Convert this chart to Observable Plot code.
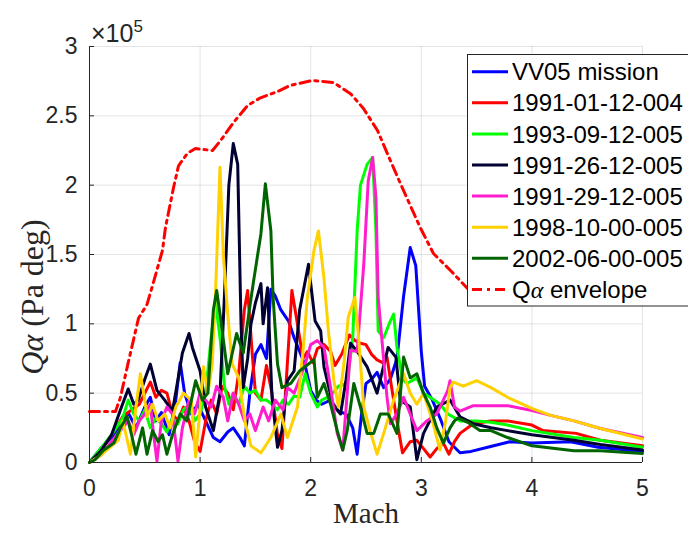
<!DOCTYPE html>
<html><head><meta charset="utf-8">
<script src="https://cdn.jsdelivr.net/npm/d3@7"></script>
<script src="https://cdn.jsdelivr.net/npm/@observablehq/plot@0.6"></script>
<style>
html,body{margin:0;padding:0;background:#fff;overflow:hidden}
#wrap{position:relative;width:688px;height:536px;overflow:hidden}
</style></head><body><div id="wrap"></div>
<script>
// Values: [Mach, Q·alpha in units of 1e5 Pa·deg]
const vv05 = [[0,0],[0.1,0.1],[0.2,0.18],[0.3,0.3],[0.35,0.36],[0.42,0.25],[0.5,0.4],[0.55,0.47],[0.6,0.3],[0.65,0.36],[0.72,0.2],[0.78,0.45],[0.82,0.72],[0.86,0.5],[0.92,0.35],[0.98,0.42],[1.05,0.3],[1.12,0.18],[1.18,0.15],[1.25,0.22],[1.3,0.25],[1.36,0.18],[1.4,0.12],[1.45,0.5],[1.5,0.78],[1.55,0.85],[1.6,0.75],[1.64,1.25],[1.68,1.2],[1.73,1.1],[1.8,1.02],[1.85,0.9],[1.9,0.8],[1.95,0.7],[2.0,0.52],[2.05,0.45],[2.1,0.42],[2.18,0.45],[2.25,0.37],[2.32,0.35],[2.38,0.25],[2.42,0.06],[2.46,0.35],[2.5,0.57],[2.55,0.6],[2.6,0.65],[2.66,0.54],[2.72,0.6],[2.78,0.75],[2.84,1.2],[2.9,1.55],[2.95,1.42],[3.0,0.8],[3.03,0.55],[3.1,0.45],[3.18,0.3],[3.25,0.15],[3.35,0.07],[3.45,0.08],[3.6,0.11],[3.8,0.15],[4.0,0.14],[4.35,0.15],[4.6,0.11],[5.0,0.08]];
const f910112 = [[0,0],[0.1,0.08],[0.2,0.2],[0.3,0.33],[0.38,0.38],[0.45,0.42],[0.5,0.5],[0.55,0.58],[0.6,0.47],[0.65,0.52],[0.7,0.5],[0.75,0.35],[0.8,0.3],[0.85,0.4],[0.9,0.3],[0.95,0.15],[1.0,0.08],[1.05,0.3],[1.1,0.45],[1.15,0.35],[1.2,0.55],[1.25,0.5],[1.3,0.38],[1.35,0.65],[1.4,1.1],[1.43,1.24],[1.47,0.8],[1.5,0.5],[1.55,0.45],[1.6,0.7],[1.65,0.5],[1.7,0.2],[1.74,0.1],[1.78,0.6],[1.83,1.24],[1.88,1.0],[1.93,0.75],[1.97,0.8],[2.02,0.72],[2.06,0.82],[2.12,0.85],[2.18,0.8],[2.22,0.7],[2.28,0.78],[2.35,0.92],[2.4,0.88],[2.45,0.86],[2.5,0.85],[2.55,0.78],[2.6,0.74],[2.65,0.72],[2.69,0.76],[2.73,0.55],[2.78,0.3],[2.83,0.07],[2.9,0.15],[2.96,0.16],[3.02,0.1],[3.08,0.04],[3.14,0.1],[3.2,0.14],[3.25,0.06],[3.3,0.15],[3.35,0.21],[3.47,0.28],[3.63,0.3],[3.78,0.3],[4.0,0.27],[4.1,0.23],[4.4,0.21],[4.62,0.16],[5.0,0.12]];
const f930912 = [[0,0],[0.1,0.1],[0.2,0.2],[0.3,0.32],[0.35,0.45],[0.4,0.35],[0.45,0.3],[0.5,0.38],[0.55,0.25],[0.6,0.32],[0.65,0.28],[0.7,0.22],[0.75,0.32],[0.8,0.28],[0.85,0.38],[0.9,0.42],[0.95,0.3],[1.0,0.35],[1.05,0.5],[1.1,0.9],[1.14,1.15],[1.18,0.9],[1.22,0.55],[1.26,0.42],[1.3,0.5],[1.35,0.42],[1.4,0.55],[1.45,0.5],[1.5,0.52],[1.55,0.45],[1.6,0.45],[1.65,0.42],[1.7,0.38],[1.75,0.45],[1.8,0.42],[1.85,0.48],[1.9,0.47],[1.95,0.64],[2.0,0.5],[2.06,0.4],[2.1,0.45],[2.15,0.47],[2.2,0.5],[2.25,0.55],[2.33,0.57],[2.38,0.9],[2.42,1.67],[2.45,2.0],[2.51,2.15],[2.56,2.2],[2.59,1.67],[2.61,0.95],[2.66,0.9],[2.72,1.02],[2.75,1.07],[2.78,0.83],[2.83,0.6],[2.87,0.57],[2.96,0.61],[3.02,0.5],[3.08,0.47],[3.17,0.42],[3.24,0.35],[3.35,0.3],[3.5,0.3],[3.63,0.29],[3.78,0.27],[4.0,0.23],[4.38,0.18],[4.62,0.16],[5.0,0.11]];
const f912612 = [[0,0],[0.1,0.08],[0.2,0.2],[0.28,0.38],[0.35,0.53],[0.4,0.42],[0.44,0.45],[0.5,0.6],[0.55,0.71],[0.61,0.52],[0.68,0.45],[0.75,0.37],[0.8,0.6],[0.84,0.79],[0.9,0.93],[0.93,0.83],[1.0,0.66],[1.05,0.4],[1.12,0.23],[1.18,0.5],[1.22,1.2],[1.26,2.0],[1.3,2.3],[1.34,2.15],[1.37,1.0],[1.39,0.54],[1.43,0.75],[1.46,1.0],[1.5,1.15],[1.55,1.29],[1.57,1.0],[1.61,1.26],[1.65,0.47],[1.7,0.11],[1.74,0.23],[1.79,0.59],[1.85,0.66],[1.9,1.1],[1.98,1.43],[2.04,1.02],[2.09,0.95],[2.12,0.69],[2.2,0.42],[2.27,0.35],[2.32,0.6],[2.36,0.86],[2.43,0.79],[2.51,0.69],[2.6,0.5],[2.7,0.83],[2.77,0.76],[2.81,0.45],[2.9,0.4],[2.96,0.02],[3.02,0.21],[3.14,0.4],[3.26,0.45],[3.35,0.33],[3.47,0.28],[3.63,0.25],[3.78,0.23],[4.0,0.2],[4.38,0.16],[4.62,0.13],[5.0,0.09]];
const f912912 = [[0,0],[0.1,0.05],[0.2,0.15],[0.3,0.25],[0.35,0.3],[0.4,0.2],[0.45,0.3],[0.5,0.35],[0.55,0.42],[0.58,0.2],[0.61,0.01],[0.65,0.3],[0.7,0.4],[0.75,0.35],[0.8,0.01],[0.84,0.25],[0.9,0.45],[0.95,0.35],[1.0,0.5],[1.05,0.45],[1.1,0.4],[1.15,0.55],[1.21,0.47],[1.25,0.3],[1.3,0.5],[1.35,0.42],[1.4,0.3],[1.45,0.35],[1.5,0.23],[1.57,0.4],[1.62,0.3],[1.68,0.45],[1.75,0.38],[1.79,0.54],[1.85,0.5],[1.9,0.6],[1.95,0.71],[2.0,0.85],[2.06,0.88],[2.12,0.83],[2.18,0.54],[2.24,0.21],[2.29,0.09],[2.33,0.5],[2.36,0.81],[2.42,0.8],[2.48,1.43],[2.52,2.03],[2.56,2.2],[2.59,1.91],[2.61,1.19],[2.65,0.83],[2.69,0.47],[2.72,0.28],[2.78,0.35],[2.84,0.47],[2.9,0.35],[2.96,0.23],[3.05,0.3],[3.14,0.35],[3.24,0.52],[3.26,0.59],[3.3,0.4],[3.35,0.37],[3.47,0.41],[3.78,0.41],[4.0,0.375],[4.17,0.34],[4.38,0.3],[4.62,0.245],[5.0,0.18]];
const f981000 = [[0,0],[0.1,0.05],[0.2,0.12],[0.26,0.16],[0.3,0.3],[0.33,0.2],[0.37,0.06],[0.42,0.4],[0.46,0.64],[0.5,0.45],[0.52,0.33],[0.57,0.42],[0.62,0.3],[0.68,0.35],[0.73,0.25],[0.78,0.4],[0.85,0.5],[0.92,0.45],[0.96,0.04],[1.0,0.4],[1.03,0.69],[1.07,0.5],[1.11,0.71],[1.14,1.24],[1.18,2.13],[1.21,1.5],[1.25,1.07],[1.29,0.71],[1.35,0.61],[1.41,0.28],[1.46,0.12],[1.55,0.07],[1.64,0.18],[1.73,0.35],[1.79,0.18],[1.88,0.4],[1.93,0.8],[1.97,1.19],[2.03,1.53],[2.07,1.67],[2.12,1.33],[2.16,0.95],[2.21,0.59],[2.25,0.4],[2.3,0.71],[2.34,1.05],[2.4,1.19],[2.43,0.93],[2.48,0.4],[2.54,0.22],[2.6,0.06],[2.66,0.21],[2.75,0.45],[2.84,0.64],[2.9,0.5],[2.96,0.42],[3.02,0.5],[3.1,0.3],[3.17,0.09],[3.22,0.3],[3.26,0.54],[3.29,0.58],[3.38,0.55],[3.5,0.59],[3.63,0.54],[3.78,0.47],[4.0,0.39],[4.17,0.34],[4.38,0.3],[4.62,0.245],[5.0,0.17]];
const f020600 = [[0,0],[0.05,0.02],[0.13,0.09],[0.22,0.14],[0.28,0.25],[0.34,0.33],[0.38,0.2],[0.42,0.06],[0.48,0.25],[0.52,0.06],[0.57,0.23],[0.62,0.15],[0.66,0.2],[0.7,0.06],[0.75,0.2],[0.82,0.35],[0.88,0.3],[0.96,0.59],[1.02,0.45],[1.07,0.5],[1.12,1.1],[1.15,1.24],[1.18,1.07],[1.25,0.64],[1.33,0.93],[1.39,0.79],[1.44,1.07],[1.48,1.29],[1.55,1.65],[1.59,2.01],[1.64,1.67],[1.66,1.19],[1.7,0.71],[1.74,0.54],[1.82,0.57],[1.9,0.66],[1.98,0.71],[2.03,0.74],[2.06,0.47],[2.12,0.57],[2.18,0.42],[2.24,0.23],[2.29,0.09],[2.33,0.23],[2.39,0.57],[2.45,0.4],[2.51,0.21],[2.57,0.21],[2.63,0.35],[2.7,0.35],[2.78,0.21],[2.84,0.76],[2.9,0.61],[2.96,0.64],[3.02,0.5],[3.08,0.4],[3.14,0.25],[3.2,0.14],[3.26,0.25],[3.3,0.3],[3.33,0.32],[3.42,0.29],[3.53,0.23],[3.63,0.23],[3.78,0.18],[4.0,0.12],[4.38,0.085],[4.62,0.085],[5.0,0.065]];
const envelope = [[0,0.368],[0.235,0.368],[0.28,0.47],[0.35,0.72],[0.443,1.04],[0.52,1.14],[0.57,1.276],[0.66,1.53],[0.687,1.695],[0.76,1.983],[0.805,2.14],[0.886,2.23],[0.958,2.264],[1.112,2.25],[1.184,2.32],[1.30,2.45],[1.43,2.575],[1.546,2.63],[1.70,2.675],[1.817,2.72],[2.016,2.755],[2.206,2.74],[2.36,2.66],[2.477,2.553],[2.604,2.394],[2.72,2.178],[2.84,1.96],[2.99,1.695],[3.11,1.507],[3.264,1.385],[3.418,1.255],[3.535,1.17]];

const seriesNames = ["VV05 mission","1991-01-12-004","1993-09-12-005","1991-26-12-005","1991-29-12-005","1998-10-00-005","2002-06-00-005"];
const seriesData = [vv05, f910112, f930912, f912612, f912912, f981000, f020600];
const seriesColors = ["#0000ff","#ff0000","#00ff00","#000033","#ff1dce","#ffd100","#006400"];
const envelopeName = "envelope";
const envelopeColor = "#ff0000";
const xTicks = [0,1,2,3,4,5];
const yTicks = [0,0.5,1,1.5,2,2.5,3];

const curves = seriesNames.flatMap((n,i) => seriesData[i].map(([m,q]) => ({name:n, mach:m, q})));
const env = envelope.map(([m,q]) => ({mach:m, q}));
const axisColor = "#262626";
const lw = 3;
const dash = "10,5,3,5";

const chart = Plot.plot({
  width: 688, height: 536,
  marginLeft: 89, marginRight: 46, marginTop: 46, marginBottom: 74,
  style: {fontFamily: "'Liberation Sans', Arial, sans-serif", background: "white", overflow: "visible"},
  x: {domain: [0,5]},
  y: {domain: [0,3]},
  color: {domain: seriesNames, range: seriesColors},
  marks: [
    Plot.gridX(xTicks, {stroke: "#000", strokeOpacity: 0.11, strokeWidth: 1}),
    Plot.gridY(yTicks, {stroke: "#000", strokeOpacity: 0.11, strokeWidth: 1}),
    Plot.line(curves, {x: "mach", y: "q", z: "name", stroke: "name", strokeWidth: lw, strokeLinejoin: "round"}),
    Plot.line(env, {x: "mach", y: "q", stroke: envelopeColor, strokeWidth: lw, strokeDasharray: dash}),
    Plot.ruleX([0], {stroke: axisColor, strokeWidth: 1}),
    Plot.ruleY([0], {stroke: axisColor, strokeWidth: 1}),
    Plot.ruleX(xTicks, {y1: 0, y2: 0.036, stroke: axisColor}),
    Plot.ruleY(yTicks, {x1: 0, x2: 0.045, stroke: axisColor}),
    Plot.axisX(xTicks, {tickSize: 0, tickPadding: 17, fontSize: 23, color: axisColor, label: null, tickFormat: d => String(d)}),
    Plot.axisY(yTicks, {tickSize: 0, tickPadding: 12, fontSize: 23, color: axisColor, label: null, tickFormat: d => String(d)}),
    Plot.text(["Mach"], {frameAnchor: "bottom", dy: 60, fontFamily: "'Liberation Serif', 'Times New Roman', serif", fontSize: 29, fill: axisColor})
  ]
});
document.getElementById("wrap").appendChild(chart);

const svg = d3.select(chart);
// y label
const yl = svg.append("text")
  .attr("transform", "translate(43,297) rotate(-90)")
  .attr("text-anchor", "middle")
  .attr("fill", axisColor)
  .style("font-family", "'Liberation Serif', 'Times New Roman', serif")
  .style("font-size", "32px");
yl.append("tspan").attr("font-style", "italic").text("Qα");
yl.append("tspan").text(" (Pa deg)");
// exponent
const ex = svg.append("text").attr("x", 91).attr("y", 42).attr("fill", axisColor)
  .attr("text-anchor", "start")
  .style("font-family", "'Liberation Sans', Arial, sans-serif").style("font-size", "25px");
ex.append("tspan").text("×10");
ex.append("tspan").attr("dy", -10).style("font-size", "17px").text("5");
// legend
const lg = svg.append("g").attr("text-anchor", "start");
lg.append("rect").attr("x", 467.5).attr("y", 54.5).attr("width", 240).attr("height", 251.5)
  .attr("fill", "#fff").attr("stroke", axisColor).attr("stroke-width", 1);
const legendNames = seriesNames.concat([envelopeName]);
const legendColors = seriesColors.concat([envelopeColor]);
legendNames.forEach((n, i) => {
  const yy = 71.7 + 31.1 * i;
  const ln = lg.append("line").attr("x1", 472).attr("x2", 508).attr("y1", yy).attr("y2", yy)
    .attr("stroke", legendColors[i]).attr("stroke-width", lw);
  if (i === legendNames.length - 1) ln.attr("stroke-dasharray", dash);
  const t = lg.append("text").attr("x", 512).attr("y", yy).attr("dy", "0.36em")
    .attr("text-anchor", "start")
    .attr("fill", "#000").style("font-family", "'Liberation Sans', Arial, sans-serif").style("font-size", "24px");
  if (i === legendNames.length - 1) {
    t.append("tspan").text("Q");
    t.append("tspan").style("font-family", "'Liberation Serif', serif").attr("font-style", "italic").text("α");
    t.append("tspan").text(" " + n);
  } else t.text(n);
});
</script></body></html>
